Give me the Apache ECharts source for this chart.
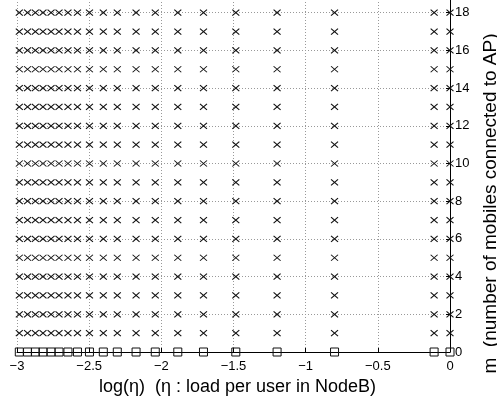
<!DOCTYPE html>
<html>
<head>
<meta charset="utf-8">
<script src="https://cdn.jsdelivr.net/npm/echarts@6/dist/echarts.min.js"></script>
<style>
html,body{margin:0;padding:0;background:#fff;}
#c{width:497px;height:400px;}
</style>
</head>
<body>
<div id="c"></div>
<script>
// log(eta) values of the columns
const etaLog = [-2.984, -2.927, -2.873, -2.820, -2.764, -2.709, -2.647, -2.581, -2.498, -2.402,
                -2.305, -2.175, -2.042, -1.886, -1.708, -1.484, -1.198, -0.800, -0.110, 0];
// m values with cross markers
const mCross = [1, 2, 3, 4, 5, 6, 7, 8, 9, 10, 11, 12, 13, 14, 15, 16, 17, 18];
// m value with square markers
const mSquare = [0];
const xTickValues = [-3, -2.5, -2, -1.5, -1, -0.5, 0];
const yTickValues = [0, 2, 4, 6, 8, 10, 12, 14, 16, 18];

const crossData = [];
mCross.forEach(m => etaLog.forEach(x => crossData.push([x, m])));
const squareData = [];
mSquare.forEach(m => etaLog.forEach(x => squareData.push([x, m])));

const FONT = 'Liberation Sans, Arial, Helvetica, sans-serif';
const chart = echarts.init(document.getElementById('c'), null, {renderer: 'canvas'});
chart.setOption({
  animation: false,
  backgroundColor: '#fff',
  grid: {left: 17, right: 47, top: -25, bottom: 48, containLabel: false, outerBoundsMode: 'none'},
  xAxis: {
    type: 'value', min: -3, max: 0, interval: 0.5,
    name: 'log(η)  (η : load per user in NodeB)',
    nameLocation: 'middle', nameGap: 26,
    nameTextStyle: {fontFamily: FONT, fontSize: 18, color: '#000', padding: [0, 0, 0, 8]},
    axisLine: {show: true, onZero: false, lineStyle: {color: '#000', width: 1}},
    axisTick: {show: true, inside: true, length: 4, lineStyle: {color: '#000'}},
    axisLabel: {
      margin: 8, fontFamily: FONT, fontSize: 13, color: '#000',
      formatter: v => (xTickValues.includes(v) ? String(v).replace('-', '\u2212') : '')
    },
    splitLine: {show: true, lineStyle: {color: '#999', type: [1, 2], width: 1}}
  },
  yAxis: {
    type: 'value', position: 'right', min: 0, max: 20, interval: 2,
    name: 'm  (number of mobiles connected to AP)',
    nameLocation: 'middle', nameRotate: 90, nameGap: 31,
    nameTextStyle: {fontFamily: FONT, fontSize: 19, color: '#000', padding: [0, 80, 0, 0]},
    axisLine: {show: true, onZero: false, lineStyle: {color: '#000', width: 1}},
    axisTick: {show: true, inside: true, length: 4, lineStyle: {color: '#000'}},
    axisLabel: {
      margin: 5, fontFamily: FONT, fontSize: 13, color: '#000',
      formatter: v => (yTickValues.includes(v) ? String(v) : '')
    },
    splitLine: {show: true, lineStyle: {color: '#999', type: [1, 2], width: 1}}
  },
  series: [
    {
      type: 'scatter', data: crossData, clip: false,
      symbol: 'path://M0,0L10,10M10,0L0,10', symbolSize: [7, 6],
      itemStyle: {color: 'rgba(0,0,0,0)', borderColor: '#111', borderWidth: 1, opacity: 1},
      z: 5
    },
    {
      type: 'scatter', data: squareData, clip: false,
      symbol: 'rect', symbolSize: 8,
      itemStyle: {color: 'rgba(0,0,0,0)', borderColor: '#111', borderWidth: 1, opacity: 1},
      z: 5
    }
  ]
});
</script>
</body>
</html>
